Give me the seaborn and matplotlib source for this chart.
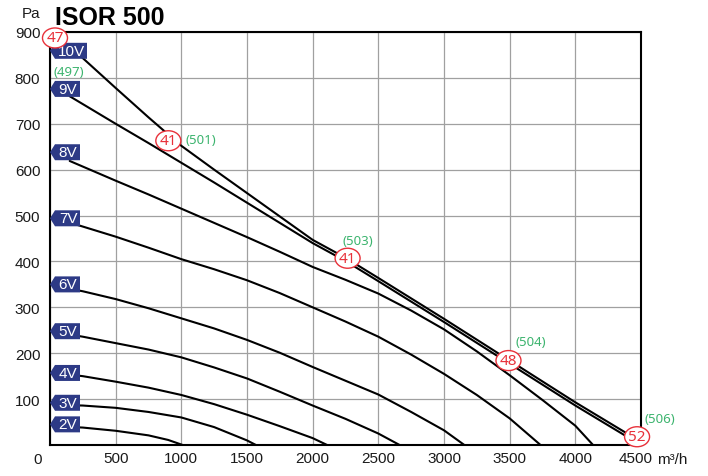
import pandas as pd
import seaborn as sns
import matplotlib.pyplot as plt
from matplotlib.patches import Polygon, Ellipse
from matplotlib.transforms import ScaledTranslation

# fan curves: airflow (m3/h) vs static pressure (Pa)
volts = ["2V", "3V", "4V", "5V", "6V", "7V", "8V", "9V", "10V"]
flow_2v = [100, 250, 500, 750, 900, 1010]
pa_2v = [40, 38, 31, 21, 11, 0]
flow_3v = [100, 250, 500, 750, 1000, 1250, 1500, 1568]
pa_3v = [87, 86, 81, 72, 60, 39, 10, 0]
flow_4v = [100, 250, 500, 750, 1000, 1250, 1500, 1750, 2000, 2110]
pa_4v = [155, 150, 138, 125, 109, 89, 66, 41, 15, 0]
flow_5v = [100, 250, 500, 750, 1000, 1250, 1500, 1750, 2000, 2250, 2500, 2662]
pa_5v = [243, 236, 222, 208, 191, 169, 145, 116, 86, 57, 25, 0]
flow_6v = [100, 250, 500, 750, 1000, 1250, 1500, 1750, 2000, 2250, 2500, 2750, 3000, 3155]
pa_6v = [343, 335, 318, 298, 276, 254, 229, 201, 170, 140, 110, 72, 32, 0]
flow_7v = [100, 250, 500, 750, 1000, 1250, 1500, 1750, 2000, 2250, 2500, 2750, 3000, 3250, 3500, 3735]
pa_7v = [489, 476, 454, 430, 405, 383, 359, 331, 300, 269, 236, 197, 155, 109, 58, 0]
flow_8v = [150, 500, 750, 1000, 1250, 1500, 1750, 2000, 2250, 2500, 2750, 3000, 3250, 3500, 3750, 4000, 4135]
pa_8v = [619, 576, 546, 515, 484, 453, 421, 388, 360, 330, 293, 252, 204, 152, 98, 42, 0]
flow_9v = [150, 500, 750, 1000, 1250, 1500, 1750, 2000, 2250, 2500, 3000, 3500, 4000, 4400]
pa_9v = [760, 700, 658, 615, 572, 528, 484, 440, 401, 357, 268, 177, 86, 17]
flow_10v = [200, 500, 750, 1000, 1250, 1500, 1750, 2000, 2250, 2500, 3000, 3500, 4000, 4400]
pa_10v = [856, 778, 714, 652, 600, 549, 498, 447, 408, 364, 275, 184, 93, 24]

# voltage tag heights on the y axis
tag_pa = [45, 92, 157, 248, 350, 494, 638, 776, 859]

# sound level markers (red) and power (green)
db_flow = [38, 901, 2266, 3491, 4470]
db_pa = [887, 663, 407, 184, 18]
db_text = ["47", "41", "41", "48", "52"]
w_flow = [141, 1149, 2342, 3662, 4643]
w_pa = [815, 665, 445, 225, 58]
w_text = ["(497)", "(501)", "(503)", "(504)", "(506)"]

xticks = [0, 500, 1000, 1500, 2000, 2500, 3000, 3500, 4000, 4500]
yticks = [0, 100, 200, 300, 400, 500, 600, 700, 800, 900]

curves = [(flow_2v, pa_2v), (flow_3v, pa_3v), (flow_4v, pa_4v), (flow_5v, pa_5v),
          (flow_6v, pa_6v), (flow_7v, pa_7v), (flow_8v, pa_8v), (flow_9v, pa_9v),
          (flow_10v, pa_10v)]
df = pd.concat([pd.DataFrame({"flow": f, "pa": p, "volt": v})
                for (f, p), v in zip(curves, volts)], ignore_index=True)

sns.set_theme(style="whitegrid")
plt.rcParams['font.family'] = ['Liberation Sans', 'DejaVu Sans']

fig = plt.figure(figsize=(7.08, 4.77), dpi=100)
ax = fig.add_axes([50 / 708, 31 / 477, 591 / 708, 413 / 477])

for v in volts:
    d = df[df["volt"] == v]
    sns.lineplot(x=d["flow"], y=d["pa"], ax=ax, color="black", lw=1.5, zorder=3)

ax.set_xlim(0, 4500)
ax.set_ylim(0, 900)
ax.set_xticks(xticks)
ax.set_xticklabels([""] + [str(t) for t in xticks[1:]])
ax.set_yticks(yticks)
ax.set_yticklabels([""] + [str(t) for t in yticks[1:]])
ax.set_xlabel("")
ax.set_ylabel("")
ax.grid(True, color="#a0a0a0", lw=0.9)
ax.tick_params(length=0, labelsize=11, colors="#1a1a1a")
ax.tick_params(axis="y", pad=7)
ax.tick_params(axis="x", pad=4)
for s in ax.spines.values():
    s.set_color("black")
    s.set_linewidth(1.5)

# nudge the last x label left to leave room for the unit
last = ax.get_xticklabels()[-1]
last.set_transform(last.get_transform() + ScaledTranslation(-5 / 100, 0, fig.dpi_scale_trans))

# data units per pixel
ux = 4500 / 591
uy = 900 / 413

navy = "#2d3a86"
for v, yv in zip(volts, tag_pa):
    right = (37 if v == "10V" else 30) * ux
    tip = 5 * ux
    h = 8 * uy
    poly = Polygon([(0, yv), (tip, yv + h), (right, yv + h), (right, yv - h), (tip, yv - h)],
                   closed=True, fc=navy, ec="none", zorder=6, clip_on=False)
    ax.add_patch(poly)
    ax.text((tip + right) / 2 + 0.5 * ux, yv, v, color="white", fontsize=11,
            ha="center", va="center", zorder=7)

red = "#e8313a"
for fx, py, t in zip(db_flow, db_pa, db_text):
    ax.add_patch(Ellipse((fx, py), width=25 * ux, height=20 * uy, fc="white",
                         ec=red, lw=1.0, zorder=8, clip_on=False))
    ax.text(fx, py, t, color=red, fontsize=11, ha="center", va="center",
            family="Noto Sans", zorder=9, clip_on=False)

green = "#3cb46e"
for fx, py, t in zip(w_flow, w_pa, w_text):
    ax.text(fx, py, t, color=green, fontsize=9.5, ha="center", va="center",
            family="Noto Sans", zorder=9, clip_on=False)

ax.text(-8 * ux, -7 * uy, "0", fontsize=11, color="#1a1a1a", ha="right", va="top")
ax.text(607 * ux, -7 * uy, "m³/h", fontsize=11, color="#1a1a1a", ha="left", va="top")

fig.text(22 / 708, 1 - 18.3 / 477, "Pa", fontsize=11, color="#1a1a1a", ha="left", va="baseline")
fig.text(55 / 708, 1 - 25 / 477, "ISOR 500", fontsize=18, fontweight="bold",
         color="black", ha="left", va="baseline")

fig.savefig("out.png", dpi=100)
